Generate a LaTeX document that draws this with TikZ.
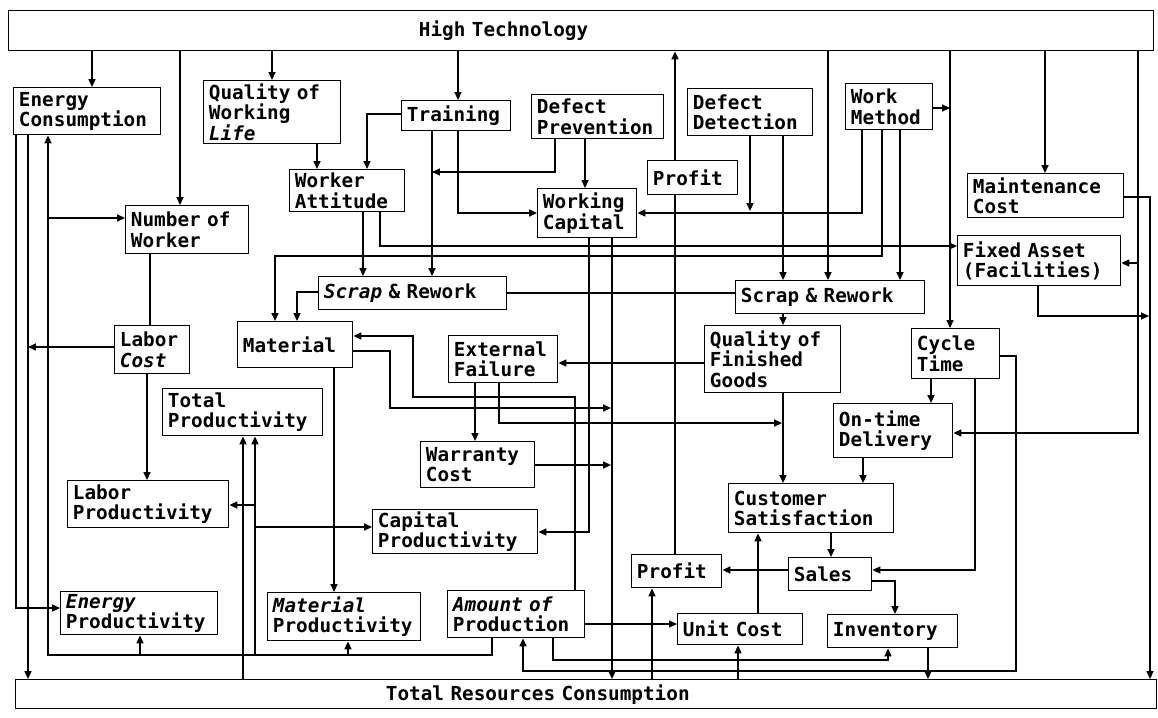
\documentclass[tikz,border=0pt]{standalone}
\usepackage{fontspec}
\newfontfamily\dgfont{DejaVu Sans Mono}
\usetikzlibrary{arrows.meta}
\tikzset{
  varbox/.style={draw,anchor=north west,align=left,inner xsep=3pt,inner ysep=1pt,line width=0.8pt,
    font=\dgfont\bfseries\fontsize{11}{11.5}\selectfont},
  link/.style={->,line width=0.8pt},
  plain/.style={-,line width=0.8pt},
}
\begin{document}
\begin{tikzpicture}[x=0.02cm,y=-0.02cm,>={Triangle[length=4.5pt,width=4pt]}]
\useasboundingbox (0,0) rectangle (1158,717);

\node[varbox,text width=22.69cm,minimum height=0.8cm] (ht) at (8,10) {\hspace*{8.1cm}High Technology};
\node[varbox,text width=22.61cm,minimum height=0.58cm] (trc) at (15,679) {\hspace*{7.3cm}Total Resources Consumption};

\node[varbox,text width=2.73cm,minimum height=0.94cm] (ec) at (13,87) {Energy\\Consumption};
\node[varbox,text width=2.53cm,minimum height=1.26cm] (qwl) at (203,80) {Quality of\\Working\\\textit{Life}};
\node[varbox,text width=1.97cm,minimum height=0.6cm] (trn) at (401,100) {Training};
\node[varbox,text width=2.43cm,minimum height=0.88cm] (dp) at (531,94) {Defect\\Prevention};
\node[varbox,text width=2.29cm,minimum height=0.94cm] (dd) at (687,88) {Defect\\Detection};
\node[varbox,text width=1.53cm,minimum height=0.92cm] (wm) at (845,83) {Work\\Method};
\node[varbox,text width=1.59cm,minimum height=0.68cm] (pft) at (647,160) {Profit};
\node[varbox,text width=1.77cm,minimum height=0.98cm] (wc) at (537,188) {Working\\Capital};
\node[varbox,text width=2.91cm,minimum height=0.88cm] (mc) at (967,173) {Maintenance\\Cost};
\node[varbox,text width=3.05cm,minimum height=1.0cm] (fa) at (957,235) {Fixed Asset\\(Facilities)};
\node[varbox,text width=2.09cm,minimum height=0.84cm] (wa) at (289,169) {Worker\\Attitude};
\node[varbox,text width=2.25cm,minimum height=0.96cm] (nw) at (125,205) {Number of\\Worker};
\node[varbox,text width=3.55cm,minimum height=0.66cm] (srl) at (318,276) {\textit{Scrap} \& Rework};
\node[varbox,text width=3.57cm,minimum height=0.66cm] (srr) at (735,280) {Scrap \& Rework};
\node[varbox,text width=2.09cm,minimum height=0.92cm] (mat) at (237,321) {Material};
\node[varbox,text width=1.29cm,minimum height=0.96cm] (lc) at (114,325) {Labor\\\textit{Cost}};
\node[varbox,text width=1.97cm,minimum height=0.94cm] (ef) at (448,335) {External\\Failure};
\node[varbox,text width=2.51cm,minimum height=1.34cm] (qfg) at (704,325) {Quality of\\Finished\\Goods};
\node[varbox,text width=1.55cm,minimum height=1.0cm] (ct) at (911,328) {Cycle\\Time};
\node[varbox,text width=2.99cm,minimum height=0.94cm] (tp) at (162,388) {Total\\Productivity};
\node[varbox,text width=2.17cm,minimum height=1.08cm] (otd) at (833,403) {On-time\\Delivery};
\node[varbox,text width=2.07cm,minimum height=0.92cm] (wty) at (420,441) {Warranty\\Cost};
\node[varbox,text width=3.01cm,minimum height=0.94cm] (lp) at (67,480) {Labor\\Productivity};
\node[varbox,text width=3.09cm,minimum height=0.88cm] (cp) at (372,509) {Capital\\Productivity};
\node[varbox,text width=3.09cm,minimum height=0.98cm] (cs) at (728,483) {Customer\\Satisfaction};
\node[varbox,text width=1.45cm,minimum height=0.66cm] (sal) at (788,557) {Sales};
\node[varbox,text width=1.59cm,minimum height=0.66cm] (pfb) at (631,554) {Profit};
\node[varbox,text width=2.93cm,minimum height=0.86cm] (ep) at (60,591) {\textit{Energy}\\Productivity};
\node[varbox,text width=2.85cm,minimum height=0.96cm] (mp) at (267,592) {\textit{Material}\\Productivity};
\node[varbox,text width=2.53cm,minimum height=0.94cm] (ap) at (447,590) {\textit{Amount of}\\Production};
\node[varbox,text width=2.29cm,minimum height=0.62cm] (uc) at (677,613) {Unit Cost};
\node[varbox,text width=2.39cm,minimum height=0.66cm] (inv) at (827,614) {Inventory};

\coordinate (jtrn) at (432,172);
\coordinate (jwc) at (750,211);
\coordinate (jct) at (950,108);
\coordinate (jcs) at (782,423);
\coordinate (jtrc1) at (611,408);
\coordinate (jtrc2) at (611,465);
\coordinate (jlc) at (28,347);
\coordinate (jmc) at (1149,316);
\coordinate (jht) at (1138,263);
\coordinate (jnw) at (48,218);
\coordinate (jep) at (140,655);
\coordinate (jmp) at (348,655);
\coordinate (jtp) at (255,655);
\coordinate (jlp) at (255,505);
\coordinate (jcp) at (255,527);

\draw[link] (ht.south -| 92,0) -- (ec.north -| 92,0);
\draw[link] (ht.south -| 180,0) -- (nw.north -| 180,0);
\draw[link] (ht.south -| 272,0) -- (qwl.north -| 272,0);
\draw[link] (ht.south -| 458,0) -- (trn.north -| 458,0);
\draw[plain] (pfb.north -| 675,0) -- (pft.south -| 675,0);
\draw[link] (pft.north -| 675,0) -- (ht.south -| 675,0);
\draw[link] (ht.south -| 828,0) -- (srr.north -| 828,0);
\draw[link] (ht.south -| 950,0) -- (ct.north -| 950,0);
\draw[link] (ht.south -| 1045,0) -- (mc.north -| 1045,0);
\draw[link] (ht.south -| 1138,0) |- (otd.east |- 0,433);
\draw[link] (jht) -- (fa.east |- jht);

\draw[link] (qwl.south -| 317,0) -- (wa.north -| 317,0);
\draw[link] (trn.west |- 0,114) -| (wa.north -| 367,0);
\draw[link] (trn.south -| 458,0) |- (wc.west |- 0,213);
\draw[link] (trn.south -| 432,0) -- (srl.north -| 432,0);
\draw[link] (dp.south -| 555,0) |- (jtrn);
\draw[link] (dp.south -| 585,0) -- (wc.north -| 585,0);
\draw[link] (dd.south -| 783,0) -- (srr.north -| 783,0);
\draw[link] (dd.south -| 750,0) -- (jwc);
\draw[link] (wm.south -| 862,0) |- (wc.east |- 0,213);
\draw[link] (wm.south -| 900,0) -- (srr.north -| 900,0);
\draw[link] (wm.south -| 882,0) -- (882,256) -| (mat.north -| 275,0);
\draw[link] (wm.east |- jct) -- (jct);
\draw[link] (wa.south -| 363,0) -- (srl.north -| 363,0);
\draw[link] (wa.south -| 380,0) |- (fa.west |- 0,246);
\draw[link] (srl.west |- 0,292) -| (mat.north -| 297,0);
\draw[plain] (srl.east |- 0,293) -- (srr.west |- 0,293);
\draw[link] (srr.south -| 783,0) -- (qfg.north -| 783,0);
\draw[link] (qfg.west |- 0,363) -- (ef.east |- 0,363);
\draw[link] (qfg.south -| 783,0) -- (cs.north -| 783,0);
\draw[link] (ef.south -| 475,0) -- (wty.north -| 475,0);
\draw[link] (ef.south -| 499,0) |- (jcs);
\draw[link] (ap.north -| 575,0) -- (575,397) -| (413,336) -- (mat.east |- 0,336);
\draw[link] (mat.east |- 0,351) -- (390,351) |- (jtrc1);
\draw[link] (wc.south -| 612,0) -- (trc.north -| 612,0);
\draw[link] (wc.south -| 589,0) |- (cp.east |- 0,532);
\draw[link] (wty.east |- 0,465) -- (jtrc2);
\draw[plain] (nw.south -| 150,0) -- (lc.north -| 150,0);
\draw[link] (lc.west |- 0,347) -- (jlc);
\draw[link] (lc.south -| 147,0) -- (lp.north -| 147,0);
\draw[link] (ec.south -| 16,0) |- (ep.west |- 0,608);
\draw[link] (ec.south -| 28,0) -- (trc.north -| 28,0);

\draw[link] (ap.south -| 492,0) |- (48,655) -- (ec.south -| 48,0);
\draw[link] (jnw) -- (nw.west |- jnw);
\draw[link] (jep) -- (ep.south -| jep);
\draw[link] (jmp) -- (mp.south -| jmp);
\draw[link] (jtp) -- (tp.south -| jtp);
\draw[link] (jlp) -- (lp.east |- jlp);
\draw[link] (jcp) -- (cp.west |- jcp);
\draw[link] (trc.north -| 243,0) -- (tp.south -| 243,0);
\draw[link] (mat.south -| 334,0) -- (mp.north -| 334,0);
\draw[link] (ap.east |- 0,624) -- (uc.west |- 0,624);
\draw[link] (ap.south -| 553,0) |- (888,660) -- (inv.south -| 888,0);
\draw[link] (ct.east |- 0,356) -| (1016,671) -| (ap.south -| 523,0);
\draw[link] (trc.north -| 738,0) -- (uc.south -| 738,0);
\draw[link] (trc.north -| 652,0) -- (pfb.south -| 652,0);
\draw[link] (uc.north -| 758,0) -- (cs.south -| 758,0);
\draw[link] (sal.west |- 0,570) -- (pfb.east |- 0,570);
\draw[link] (cs.south -| 831,0) -- (sal.north -| 831,0);
\draw[link] (ct.south -| 975,0) |- (sal.east |- 0,570);
\draw[link] (sal.east |- 0,581) -| (inv.north -| 895,0);
\draw[link] (inv.south -| 928,0) -- (trc.north -| 928,0);
\draw[link] (otd.south -| 863,0) -- (cs.north -| 863,0);
\draw[link] (ct.south -| 931,0) -- (otd.north -| 931,0);
\draw[link] (mc.east |- 0,197) -| (trc.north -| 1150,0);
\draw[link] (fa.south -| 1038,0) |- (jmc);

\end{tikzpicture}
\end{document}
